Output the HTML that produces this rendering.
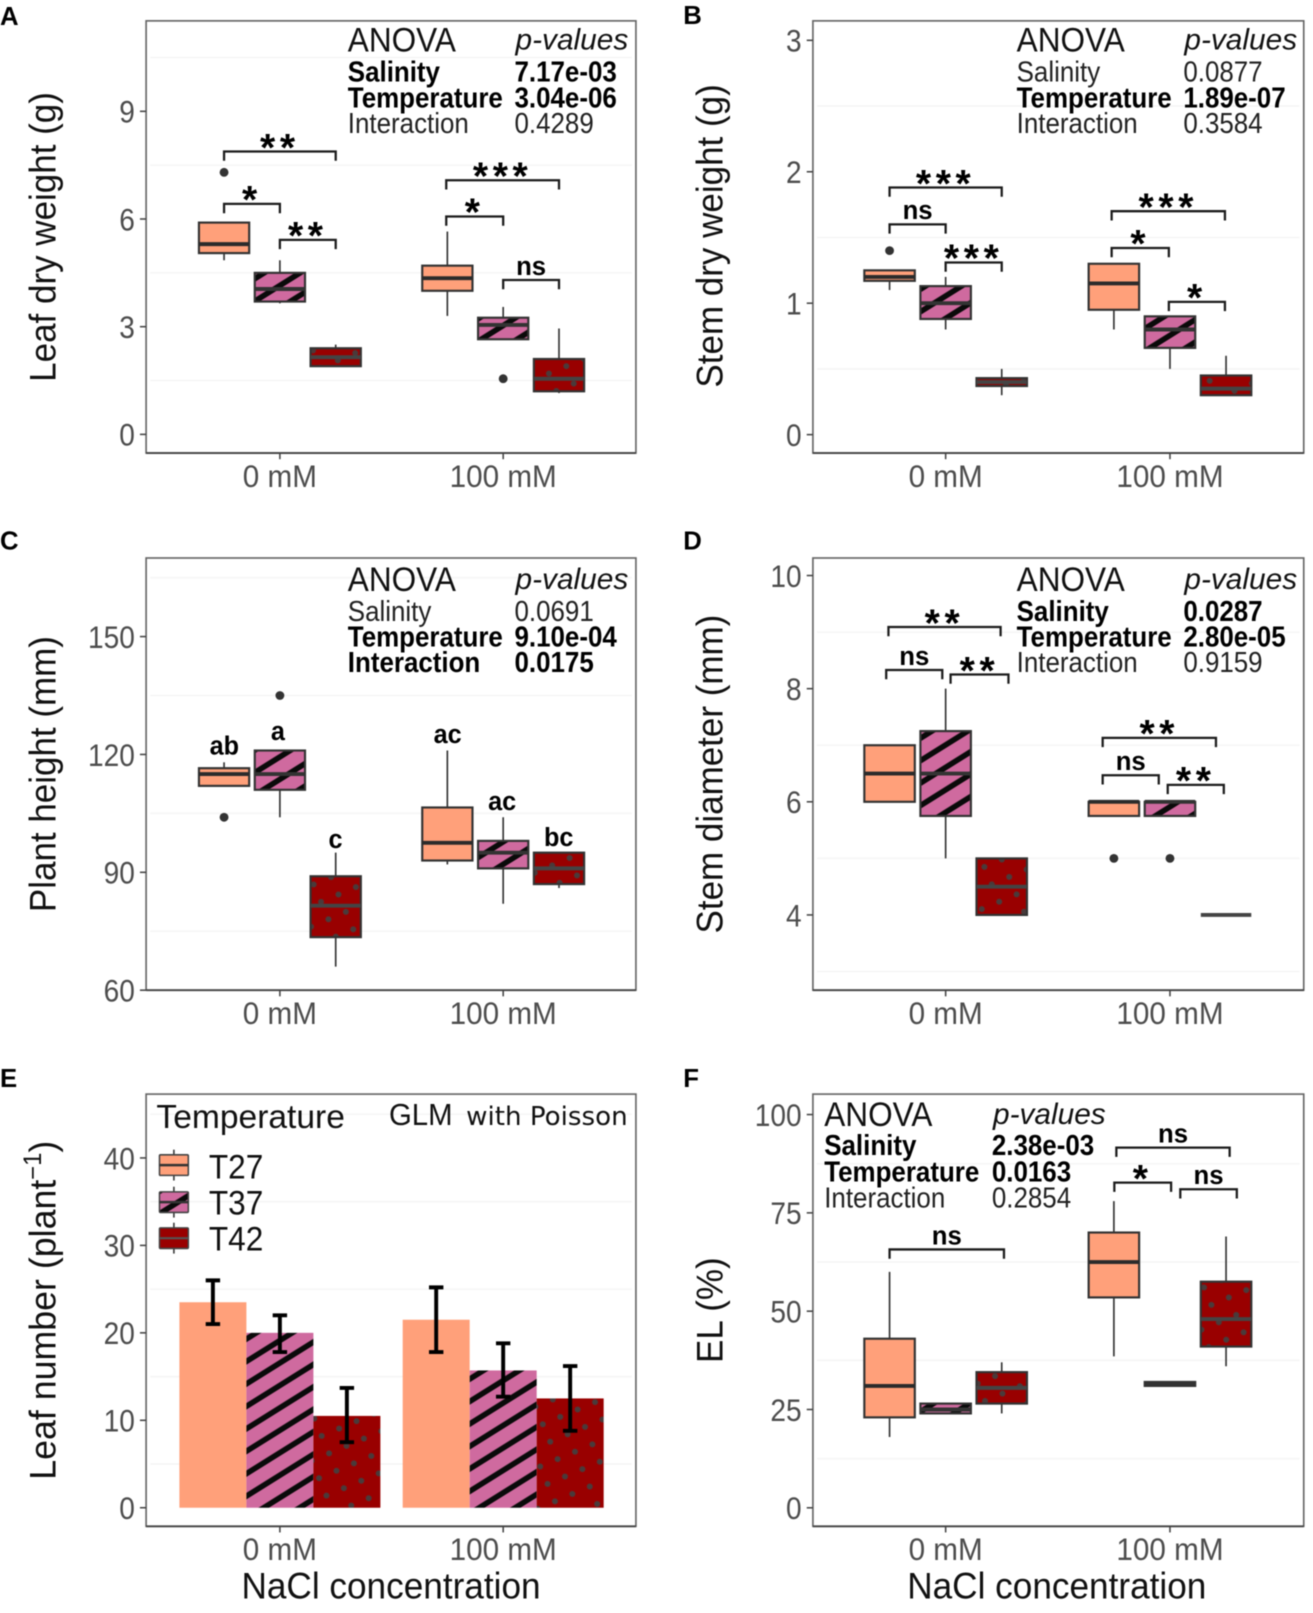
<!DOCTYPE html>
<html lang="en">
<head>
<meta charset="utf-8">
<title>Plant growth under salinity and temperature</title>
<style>
html,body{margin:0;padding:0;background:#fff;width:1313px;height:1613px;overflow:hidden}
svg{display:block;filter:blur(.6px)}
text{font-family:"Liberation Sans",sans-serif;fill:#111}
.row text{font-size:28px;fill:#222}
.row text.b{font-weight:700;fill:#000}
.at{font-size:33px}
.pv{font-size:29px;font-style:italic}
.ttl{font-size:36px;fill:#111}
.let{font-size:25px;font-weight:700;fill:#000}
.pl{font-size:25px;font-weight:700;fill:#000}
</style>
</head>
<body>
<svg id="figure" width="1313" height="1613" viewBox="0 0 1276 1567" xmlns="http://www.w3.org/2000/svg">
<defs>
<pattern id="stripe" width="20" height="18.5" patternUnits="userSpaceOnUse" patternTransform="rotate(-32)">
<rect width="20" height="18.5" fill="#cf6a9f"/><rect y="6.5" width="20" height="5.4" fill="#0a0a0a"/>
</pattern>
<pattern id="dots" width="26" height="26" patternUnits="userSpaceOnUse" patternTransform="rotate(22)">
<rect width="26" height="26" fill="#990000"/><circle cx="6.5" cy="6.5" r="2.9" fill="#4a3a3a"/><circle cx="19.5" cy="19.5" r="2.9" fill="#4a3a3a"/>
</pattern>
</defs>
<rect width="1276" height="1567" fill="#fff"/>

<g id="panel-a"></g>
<g id="panel-b"></g>
<g id="panel-c"></g>
<g id="panel-d"></g>
<g id="panel-e"></g>
<g id="panel-f"></g>

<!-- panel letters -->
<text class="pl" x="0" y="24">A</text>
<text class="pl" x="664" y="23">B</text>
<text class="pl" x="0" y="534">C</text>
<text class="pl" x="664" y="534">D</text>
<text class="pl" x="0" y="1056">E</text>
<text class="pl" x="664" y="1056">F</text>

<!-- axis titles -->
<text class="ttl" text-anchor="middle" transform="translate(54 230) rotate(-90) scale(.945 1)">Leaf dry weight (g)</text>
<text class="ttl" text-anchor="middle" transform="translate(702 229) rotate(-90) scale(.945 1)">Stem dry weight (g)</text>
<text class="ttl" text-anchor="middle" transform="translate(54 752) rotate(-90) scale(.945 1)">Plant height (mm)</text>
<text class="ttl" text-anchor="middle" transform="translate(702 752) rotate(-90) scale(.945 1)">Stem diameter (mm)</text>
<text class="ttl" text-anchor="middle" transform="translate(54 1273) rotate(-90) scale(.965 1)">Leaf number (plant<tspan font-size="24" dy="-14">−1</tspan><tspan dy="14">)</tspan></text>
<text class="ttl" text-anchor="middle" transform="translate(702 1273) rotate(-90) scale(.945 1)">EL (%)</text>
<text class="ttl" text-anchor="middle" transform="translate(380 1553) scale(.95 1)">NaCl concentration</text>
<text class="ttl" text-anchor="middle" transform="translate(1027 1553) scale(.95 1)">NaCl concentration</text>

<!-- ANOVA tables -->
<g transform="translate(338 50)">
<text class="at" transform="scale(.93 1)">ANOVA</text><text class="pv" x="163" y="-2">p-values</text>
<g class="row" transform="translate(0 29) scale(.9 1)"><text class="b">Salinity</text><text class="b" x="180">7.17e-03</text></g>
<g class="row" transform="translate(0 54) scale(.9 1)"><text class="b">Temperature</text><text class="b" x="180">3.04e-06</text></g>
<g class="row" transform="translate(0 79) scale(.9 1)"><text>Interaction</text><text x="180">0.4289</text></g>
</g>
<g transform="translate(988 50)">
<text class="at" transform="scale(.93 1)">ANOVA</text><text class="pv" x="163" y="-2">p-values</text>
<g class="row" transform="translate(0 29) scale(.9 1)"><text>Salinity</text><text x="180">0.0877</text></g>
<g class="row" transform="translate(0 54) scale(.9 1)"><text class="b">Temperature</text><text class="b" x="180">1.89e-07</text></g>
<g class="row" transform="translate(0 79) scale(.9 1)"><text>Interaction</text><text x="180">0.3584</text></g>
</g>
<g transform="translate(338 574)">
<text class="at" transform="scale(.93 1)">ANOVA</text><text class="pv" x="163" y="-2">p-values</text>
<g class="row" transform="translate(0 29) scale(.9 1)"><text>Salinity</text><text x="180">0.0691</text></g>
<g class="row" transform="translate(0 54) scale(.9 1)"><text class="b">Temperature</text><text class="b" x="180">9.10e-04</text></g>
<g class="row" transform="translate(0 79) scale(.9 1)"><text class="b">Interaction</text><text class="b" x="180">0.0175</text></g>
</g>
<g transform="translate(988 574)">
<text class="at" transform="scale(.93 1)">ANOVA</text><text class="pv" x="163" y="-2">p-values</text>
<g class="row" transform="translate(0 29) scale(.9 1)"><text class="b">Salinity</text><text class="b" x="180">0.0287</text></g>
<g class="row" transform="translate(0 54) scale(.9 1)"><text class="b">Temperature</text><text class="b" x="180">2.80e-05</text></g>
<g class="row" transform="translate(0 79) scale(.9 1)"><text>Interaction</text><text x="180">0.9159</text></g>
</g>
<g transform="translate(801 1094)">
<text class="at" transform="scale(.93 1)">ANOVA</text><text class="pv" x="164" y="-2">p-values</text>
<g class="row" transform="translate(0 28) scale(.9 1)"><text class="b">Salinity</text><text class="b" x="181">2.38e-03</text></g>
<g class="row" transform="translate(0 54) scale(.9 1)"><text class="b">Temperature</text><text class="b" x="181">0.0163</text></g>
<g class="row" transform="translate(0 79) scale(.9 1)"><text>Interaction</text><text x="181">0.2854</text></g>
</g>

<!-- panel C significance letters -->
<text class="let" text-anchor="middle" transform="translate(218 733) scale(.98 1)">ab</text>
<text class="let" text-anchor="middle" transform="translate(270 719) scale(.98 1)">a</text>
<text class="let" text-anchor="middle" transform="translate(326 824) scale(.98 1)">c</text>
<text class="let" text-anchor="middle" transform="translate(435 722) scale(.98 1)">ac</text>
<text class="let" text-anchor="middle" transform="translate(488 787) scale(.98 1)">ac</text>
<text class="let" text-anchor="middle" transform="translate(543 822) scale(.98 1)">bc</text>

<!-- panel E legend and note -->
<g>
<text transform="translate(152 1096) scale(1.02 1)" font-size="32">Temperature</text>
<g>
<line x1="169" x2="169" y1="1117" y2="1147" stroke="#333" stroke-width="1.5"/>
<rect x="155" y="1122" width="28" height="20" rx="1" fill="#ffa07a" stroke="#444" stroke-width="1.5"/>
<line x1="155" x2="183" y1="1132" y2="1132" stroke="#333" stroke-width="2.5"/>
<text transform="translate(203 1145) scale(.93 1)" font-size="33">T27</text>
</g>
<g>
<line x1="169" x2="169" y1="1153" y2="1183" stroke="#333" stroke-width="1.5"/>
<rect x="155" y="1158" width="28" height="20" rx="1" fill="url(#stripe)" stroke="#444" stroke-width="1.5"/>
<line x1="155" x2="183" y1="1168" y2="1168" stroke="#333" stroke-width="2.5"/>
<text transform="translate(203 1180) scale(.93 1)" font-size="33">T37</text>
</g>
<g>
<line x1="169" x2="169" y1="1188" y2="1218" stroke="#333" stroke-width="1.5"/>
<rect x="155" y="1193" width="28" height="20" rx="1" fill="#990000" stroke="#444" stroke-width="1.5"/>
<line x1="155" x2="183" y1="1203" y2="1203" stroke="#555" stroke-width="2"/>
<text transform="translate(203 1215) scale(.93 1)" font-size="33">T42</text>
</g>
</g>
<text transform="translate(378 1093) scale(.95 1)" font-size="30">GLM</text>
<text x="453" y="1093" font-size="25" textLength="157" lengthAdjust="spacingAndGlyphs" style='font-family:"DejaVu Sans",sans-serif'>with Poisson</text>
</svg>

<script>
const groups = ['0 mM', '100 mM'];
const temperatures = ['T27', 'T37', 'T42'];

/* Panel A: leaf dry weight (g). Series order: T27,T37,T42 at 0 mM, then at 100 mM */
const aDomain = [-0.52, 11.52];
const aTicks = [0, 3, 6, 9];
const aMinor = [1.5, 4.5, 7.5, 10.5];
const aLow = [4.85, 3.65, 1.9, 3.3, 2.65, 1.15];
const aQ1 = [5.05, 3.7, 1.9, 4.0, 2.65, 1.2];
const aMedian = [5.3, 4.05, 2.15, 4.35, 3.05, 1.55];
const aQ3 = [5.9, 4.5, 2.4, 4.7, 3.25, 2.1];
const aHigh = [5.9, 4.85, 2.5, 5.65, 3.55, 2.95];
const aOutliers = [[7.3], [], [], [], [1.55], []];
const aBracketFrom = [0.75, 0.75, 1.0, 1.745, 1.745, 2.0];
const aBracketTo = [1.25, 1.0, 1.25, 2.25, 2.0, 2.25];
const aBracketLevel = [7.88, 6.42, 5.42, 7.08, 6.07, 4.3];
const aBracketLabels = ['**', '*', '**', '***', '*', 'ns'];

/* Panel B: stem dry weight (g) */
const bDomain = [-0.14, 3.148];
const bTicks = [0, 1, 2, 3];
const bMinor = [0.5, 1.5, 2.5];
const bLow = [1.1, 0.8, 0.3, 0.8, 0.5, 0.3];
const bQ1 = [1.17, 0.88, 0.37, 0.95, 0.66, 0.3];
const bMedian = [1.2, 1.0, 0.4, 1.15, 0.8, 0.35];
const bQ3 = [1.25, 1.13, 0.43, 1.3, 0.9, 0.45];
const bHigh = [1.25, 1.2, 0.5, 1.3, 0.9, 0.6];
const bOutliers = [[1.4], [], [], [], [], []];
const bBracketFrom = [0.75, 0.75, 1.0, 1.74, 1.74, 1.995];
const bBracketTo = [1.25, 1.0, 1.25, 2.245, 1.995, 2.245];
const bBracketLevel = [1.88, 1.6, 1.31, 1.7, 1.42, 1.01];
const bBracketLabels = ['***', 'ns', '***', '***', '*', '*'];

/* Panel C: plant height (mm) */
const cDomain = [60, 170];
const cTicks = [60, 90, 120, 150];
const cMinor = [75, 105, 135, 165];
const cLow = [112, 104, 66, 92, 82, 86];
const cQ1 = [112, 111, 73.5, 93, 91, 87];
const cMedian = [115, 115, 81.5, 97.5, 95, 91];
const cQ3 = [116.5, 121, 89, 106.5, 98, 95];
const cHigh = [118, 121, 95, 121, 104, 95];
const cOutliers = [[104], [135], [], [], [], []];

/* Panel D: stem diameter (mm) */
const dDomain = [2.67, 10.31];
const dTicks = [4, 6, 8, 10];
const dMinor = [3, 5, 7, 9];
const dLow = [6, 5, 4, 5.75, 5.75, 4];
const dQ1 = [6, 5.75, 4, 5.75, 5.75, 4];
const dMedian = [6.5, 6.5, 4.5, 6, 6, 4];
const dQ3 = [7, 7.25, 5, 6, 6, 4];
const dHigh = [7, 8, 5, 6, 6, 4];
const dOutliers = [[], [], [], [5], [5], []];
const dBracketFrom = [0.745, 0.735, 1.022, 1.70, 1.70, 1.99];
const dBracketTo = [1.245, 0.985, 1.28, 2.205, 1.95, 2.24];
const dBracketLevel = [9.09, 8.33, 8.25, 7.13, 6.47, 6.3];
const dBracketLabels = ['**', 'ns', '**', '**', 'ns', '**'];

/* Panel E: leaf number per plant, bars with error bars */
const eDomain = [-2.12, 47.3];
const eTicks = [0, 10, 20, 30, 40];
const eMinor = [5, 15, 25, 35, 45];
const eMeans = [23.5, 20, 10.5, 21.5, 15.7, 12.5];
const eErrLow = [21, 17.8, 7.5, 17.8, 12.7, 8.8];
const eErrHigh = [26, 22, 13.7, 25.2, 18.8, 16.2];

/* Panel F: electrolyte leakage (%) */
const fDomain = [-4.7, 105.2];
const fTicks = [0, 25, 50, 75, 100];
const fMinor = [12.5, 37.5, 62.5, 87.5];
const fLow = [18, 24, 24, 38.5, 31, 36];
const fQ1 = [23, 24, 26.5, 53.5, 31, 41];
const fMedian = [31, 25, 30.5, 62.5, 31.5, 48];
const fQ3 = [43, 26.5, 34.5, 70, 32, 57.5];
const fHigh = [60, 26.5, 37, 78, 32, 69];
const fOutliers = [[], [], [], [], [], []];
const fBracketFrom = [0.75, 1.761, 1.752, 2.046];
const fBracketTo = [1.26, 2.266, 2.005, 2.298];
const fBracketLevel = [65.7, 91.6, 82.7, 81];
const fBracketLabels = ['ns', 'ns', '*', 'ns'];

const NS = 'http://www.w3.org/2000/svg';
const fills = ['#ffa07a', 'url(#stripe)', 'url(#dots)'];
const medianColors = ['#2b2b2b', '#333333', '#444444'];

function mk(parent, tag, attrs, content) {
  const el = document.createElementNS(NS, tag);
  for (const k in attrs) el.setAttribute(k, attrs[k]);
  if (content !== undefined) el.textContent = content;
  parent.appendChild(el);
  return el;
}

function scales(frame, domain) {
  return {
    x: function (c) { return frame.cat1 + (c - 1) * (frame.cat2 - frame.cat1); },
    y: function (v) { return frame.y1 - (v - domain[0]) / (domain[1] - domain[0]) * (frame.y1 - frame.y0); }
  };
}

function drawGrid(root, frame, s, minor) {
  minor.forEach(function (v) {
    const g = mk(root, 'line', { x1: frame.x0 + 4, x2: frame.x1 - 4, y1: s.y(v), y2: s.y(v), stroke: '#f5f5f5', 'stroke-width': 1.5 });
    
    
  });
}

function drawAxes(root, frame, s, ticks) {
  const border = mk(root, 'rect', { x: frame.x0, y: frame.y0, width: frame.x1 - frame.x0, height: frame.y1 - frame.y0, fill: 'none', stroke: '#666', 'stroke-width': 1.6 });
  
  
  const base = mk(root, 'line', { x1: frame.x0, x2: frame.x1, y1: frame.y1, y2: frame.y1, stroke: '#444', 'stroke-width': 1.8 });
  
  
  ticks.forEach(function (t) {
    const y = s.y(t);
    const m = mk(root, 'line', { x1: frame.x0 - 6, x2: frame.x0, y1: y, y2: y, stroke: '#444', 'stroke-width': 1.5 });
    
    
    const l = mk(root, 'text', { 'text-anchor': 'end', 'font-size': 31, transform: 'translate(' + (frame.x0 - 11) + ' ' + (y + 11) + ') scale(.88 1)', style: 'fill:#4d4d4d' }, String(t));
    
    
  });
  groups.forEach(function (name, i) {
    const x = s.x(i + 1);
    const m = mk(root, 'line', { x1: x, x2: x, y1: frame.y1, y2: frame.y1 + 6, stroke: '#444', 'stroke-width': 1.5 });
    
    
    const l = mk(root, 'text', { 'text-anchor': 'middle', 'font-size': 31, transform: 'translate(' + x + ' ' + (frame.y1 + 33) + ') scale(.93 1)', style: 'fill:#4d4d4d' }, name);
    
    
  });
}

function drawBoxes(root, s, low, q1, med, q3, high, outliers) {
  const halfW = 0.1125;
  low.forEach(function (_, i) {
    const g = Math.floor(i / 3);
    const t = i % 3;
    const c = g + 1 + (t - 1) * 0.25;
    const cx = s.x(c);
    const left = s.x(c - halfW);
    const right = s.x(c + halfW);
    const wh = mk(root, 'line', { x1: cx, x2: cx, y1: s.y(low[i]), y2: s.y(high[i]), stroke: '#333', 'stroke-width': 1.6 });
    
    
    const box = mk(root, 'rect', { x: left, y: s.y(q3[i]), width: right - left, height: s.y(q1[i]) - s.y(q3[i]), fill: fills[t], stroke: '#333', 'stroke-width': 2.1 });
    
    
    const m = mk(root, 'line', { x1: left, x2: right, y1: s.y(med[i]), y2: s.y(med[i]), stroke: medianColors[t], 'stroke-width': 3.8 });
    
    
    outliers[i].forEach(function (v) {
      const o = mk(root, 'circle', { cx: cx, cy: s.y(v), r: 4.3, fill: '#333' });
      
      
    });
  });
}

function drawBrackets(root, s, from, to, level, labels) {
  level.forEach(function (v, i) {
    const x1 = s.x(from[i]);
    const x2 = s.x(to[i]);
    const y = s.y(v);
    const b = mk(root, 'path', { d: 'M' + x1 + ' ' + (y + 9) + 'V' + y + 'H' + x2 + 'V' + (y + 9), fill: 'none', stroke: '#1c1c1c', 'stroke-width': 2.2 });
    
    
    const isStar = labels[i] !== 'ns';
    const attrs = isStar
      ? { x: (x1 + x2) / 2, y: y + 9, 'text-anchor': 'middle', 'font-size': 38, 'font-weight': 700, 'letter-spacing': 4.5, style: 'fill:#000' }
      : { x: (x1 + x2) / 2, y: y - 5, 'text-anchor': 'middle', 'font-size': 25, 'font-weight': 700, style: 'fill:#000' };
    const l = mk(root, 'text', attrs, labels[i]);
    
    
  });
}

function drawBars(root, s, means, errLow, errHigh) {
  const step = 0.3;
  means.forEach(function (v, i) {
    const g = Math.floor(i / 3);
    const t = i % 3;
    const c = g + 1 + (t - 1) * step;
    const left = s.x(c - step / 2);
    const right = s.x(c + step / 2);
    const bar = mk(root, 'rect', { x: left, y: s.y(v), width: right - left, height: s.y(0) - s.y(v), fill: fills[t] });
    
    
  });
  means.forEach(function (_, i) {
    const g = Math.floor(i / 3);
    const t = i % 3;
    const cx = s.x(g + 1 + (t - 1) * step);
    const yl = s.y(errLow[i]);
    const yh = s.y(errHigh[i]);
    const e = mk(root, 'path', { d: 'M' + (cx - 7) + ' ' + yh + 'H' + (cx + 7) + 'M' + cx + ' ' + yh + 'V' + yl + 'M' + (cx - 7) + ' ' + yl + 'H' + (cx + 7), fill: 'none', stroke: '#000', 'stroke-width': 3.8 });
    
    
  });
}

const frameA = { x0: 142, x1: 618, y0: 20, y1: 440, cat1: 272, cat2: 489 };
const frameB = { x0: 790, x1: 1267, y0: 20, y1: 440, cat1: 919, cat2: 1137 };
const frameC = { x0: 142, x1: 618, y0: 542, y1: 962, cat1: 272, cat2: 489 };
const frameD = { x0: 790, x1: 1267, y0: 542, y1: 962, cat1: 919, cat2: 1137 };
const frameE = { x0: 142, x1: 618, y0: 1063, y1: 1483, cat1: 272, cat2: 489 };
const frameF = { x0: 790, x1: 1267, y0: 1063, y1: 1483, cat1: 919, cat2: 1137 };

(function () {
  let root = document.getElementById('panel-a');
  let s = scales(frameA, aDomain);
  drawGrid(root, frameA, s, aMinor);
  drawBoxes(root, s, aLow, aQ1, aMedian, aQ3, aHigh, aOutliers);
  drawBrackets(root, s, aBracketFrom, aBracketTo, aBracketLevel, aBracketLabels);
  drawAxes(root, frameA, s, aTicks);

  root = document.getElementById('panel-b');
  s = scales(frameB, bDomain);
  drawGrid(root, frameB, s, bMinor);
  drawBoxes(root, s, bLow, bQ1, bMedian, bQ3, bHigh, bOutliers);
  drawBrackets(root, s, bBracketFrom, bBracketTo, bBracketLevel, bBracketLabels);
  drawAxes(root, frameB, s, bTicks);

  root = document.getElementById('panel-c');
  s = scales(frameC, cDomain);
  drawGrid(root, frameC, s, cMinor);
  drawBoxes(root, s, cLow, cQ1, cMedian, cQ3, cHigh, cOutliers);
  drawAxes(root, frameC, s, cTicks);

  root = document.getElementById('panel-d');
  s = scales(frameD, dDomain);
  drawGrid(root, frameD, s, dMinor);
  drawBoxes(root, s, dLow, dQ1, dMedian, dQ3, dHigh, dOutliers);
  drawBrackets(root, s, dBracketFrom, dBracketTo, dBracketLevel, dBracketLabels);
  drawAxes(root, frameD, s, dTicks);

  root = document.getElementById('panel-e');
  s = scales(frameE, eDomain);
  drawGrid(root, frameE, s, eMinor);
  drawBars(root, s, eMeans, eErrLow, eErrHigh);
  drawAxes(root, frameE, s, eTicks);

  root = document.getElementById('panel-f');
  s = scales(frameF, fDomain);
  drawGrid(root, frameF, s, fMinor);
  drawBoxes(root, s, fLow, fQ1, fMedian, fQ3, fHigh, fOutliers);
  drawBrackets(root, s, fBracketFrom, fBracketTo, fBracketLevel, fBracketLabels);
  drawAxes(root, frameF, s, fTicks);
})();
</script>
</body>
</html>
